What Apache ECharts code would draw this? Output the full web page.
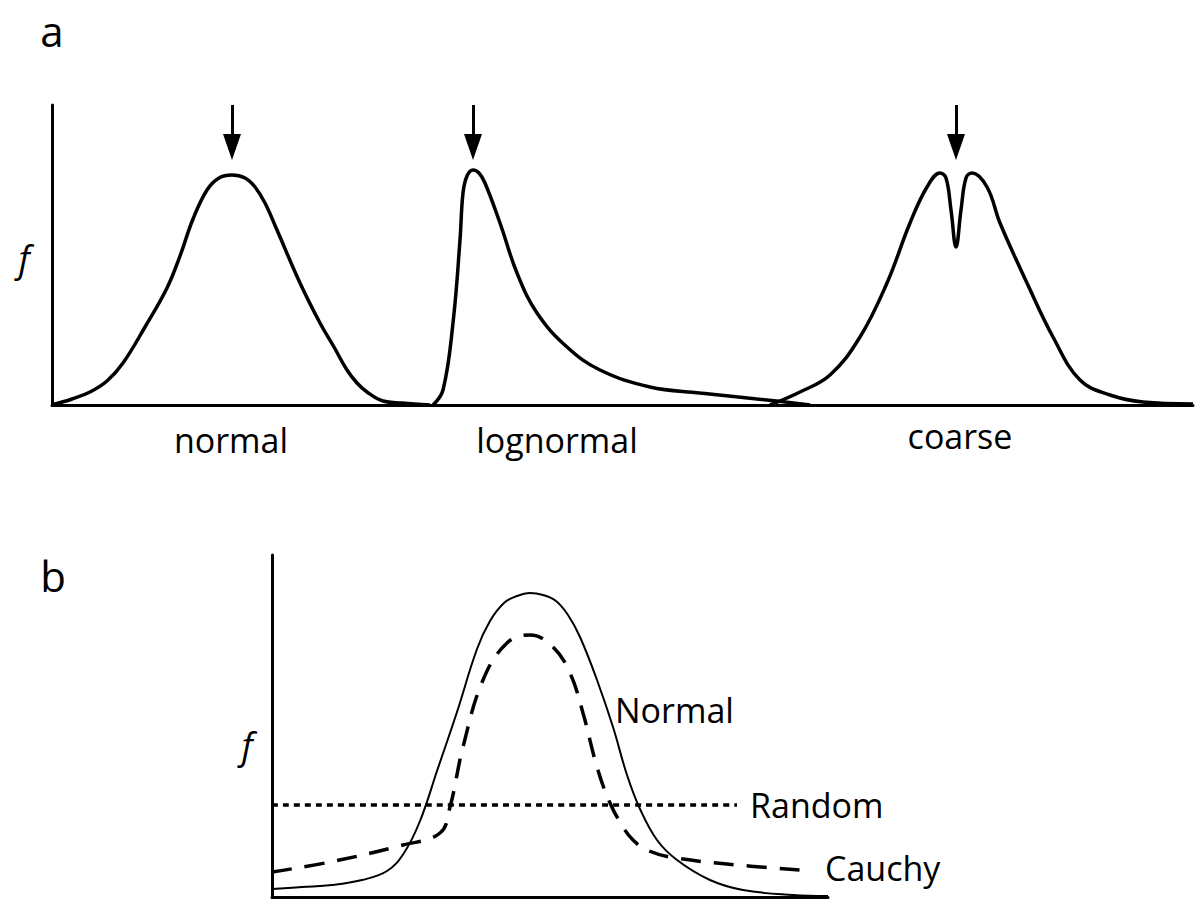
<!DOCTYPE html>
<html>
<head>
<meta charset="utf-8">
<script src="https://cdn.jsdelivr.net/npm/echarts@6/dist/echarts.min.js"></script>
<style>
  html, body { margin: 0; padding: 0; background: #fff; }
  #chart { width: 1200px; height: 900px; }
</style>
</head>
<body>
<div id="chart"></div>
<script>
// panel a: three grain-size distributions (x, f)
const normalA = [[0,0],[20,6],[38,13],[55,24],[71,42],[93,78],[115,117],[128,149],[141,186],[155,215],[167,227],[180,230],[193,227],[203,218],[213,202],[225,175],[248,122],[268,82],[282,58],[295,35],[305,22],[315,13],[331,4],[350,2],[378,0]];
const lognormalA = [[381,0],[391,15],[401,82],[408,165],[411,212],[415,229],[421,235],[427,232],[433,222],[448,182],[465,132],[485,92],[515,58],[548,35],[598,18],[648,12],[715,5],[758,0]];
const coarseA = [[718,0],[748,13],[778,30],[808,68],[835,122],[858,182],[875,218],[888,232],[894,227],[899,195],[904,158],[909,195],[914,227],[920,232],[935,218],[948,182],[975,122],[1001,68],[1028,25],[1058,10],[1091,3],[1141,1]];
// arrows mark the mode of each curve
const modeX = [180, 421, 904];
const catLabels = ['normal', 'lognormal', 'coarse'];

// panel b
const normalB = [[0,8],[30,10],[60,12],[90,17],[115,26],[132,44],[148,76],[165,126],[185,185],[205,248],[218,276],[232,294],[245,301],[258,304],[271,302],[284,296],[296,282],[308,260],[325,217],[341,170],[355,122],[368,88],[385,57],[405,37],[438,17],[471,7],[521,2],[556,1]];
const cauchyB = [[0,25],[58,35],[131,52],[168,64],[178,90],[191,150],[211,217],[235,254],[258,262],[281,250],[298,224],[311,184],[325,130],[338,94],[351,70],[361,57],[375,47],[398,40],[455,33],[528,27]];
const randomB = [[0,92],[465,92]];

const chart = echarts.init(document.getElementById('chart'), null, { renderer: 'svg' });

const FONT = '"Open Sans", sans-serif';

function axisX(idx, max) {
  return {
    type: 'value', gridIndex: idx, min: 0, max: max,
    axisLine: { show: true, onZero: false, lineStyle: { color: '#000', width: 3 } },
    axisTick: { show: false }, axisLabel: { show: false }, splitLine: { show: false }
  };
}
function axisY(idx, max) {
  return {
    type: 'value', gridIndex: idx, min: 0, max: max,
    axisLine: { show: true, lineStyle: { color: '#000', width: 3 } },
    axisTick: { show: false }, axisLabel: { show: false }, splitLine: { show: false }
  };
}
function curve(data, idx, width, type) {
  return {
    type: 'line', xAxisIndex: idx, yAxisIndex: idx, data: data,
    smooth: 0.4, showSymbol: false, silent: true, clip: false,
    lineStyle: { color: '#000', width: width, type: type || 'solid' }
  };
}

const seriesA = [curve(normalA, 0, 3.5), curve(lognormalA, 0, 3.5), curve(coarseA, 0, 3.5)];
seriesA.forEach(function (s, i) {
  s.markLine = {
    silent: true,
    symbol: ['none', 'triangle'],
    symbolSize: [18, 26],
    label: { show: false },
    lineStyle: { color: '#000', width: 3, type: 'solid' },
    data: [[{ coord: [modeX[i], 300] }, { coord: [modeX[i], 258] }]]
  };
});

const catPos = [[231, 440], [557, 440], [960, 436]];
const sideLabels = [
  { text: 'Normal', x: 615, y: 710 },
  { text: 'Random', x: 750, y: 805 },
  { text: 'Cauchy', x: 825, y: 868 }
];

const graphics = [
  { type: 'text', x: 52, y: 30, style: { text: 'a', font: '42px ' + FONT, fill: '#000', textAlign: 'center', textVerticalAlign: 'middle' } },
  { type: 'text', x: 53, y: 575, style: { text: 'b', font: '42px ' + FONT, fill: '#000', textAlign: 'center', textVerticalAlign: 'middle' } },
  { type: 'text', x: 24, y: 258, style: { text: 'f', font: 'italic 36px ' + FONT, fill: '#000', textAlign: 'center', textVerticalAlign: 'middle' } },
  { type: 'text', x: 247, y: 745, style: { text: 'f', font: 'italic 36px ' + FONT, fill: '#000', textAlign: 'center', textVerticalAlign: 'middle' } }
];
catLabels.forEach(function (t, i) {
  graphics.push({ type: 'text', x: catPos[i][0], y: catPos[i][1],
    style: { text: t, font: '34px ' + FONT, fill: '#000', textAlign: 'center', textVerticalAlign: 'middle' } });
});
sideLabels.forEach(function (l) {
  graphics.push({ type: 'text', x: l.x, y: l.y,
    style: { text: l.text, font: '34px ' + FONT, fill: '#000', textAlign: 'left', textVerticalAlign: 'middle' } });
});

const option = {
  backgroundColor: '#fff',
  animation: false,
  grid: [
    { left: 52, right: 7, top: 105, bottom: 495 },
    { left: 272, right: 372, top: 555, bottom: 3 }
  ],
  xAxis: [axisX(0, 1141), axisX(1, 556)],
  yAxis: [axisY(0, 300), axisY(1, 342)],
  series: seriesA.concat([
    curve(normalB, 1, 2),
    curve(cauchyB, 1, 3.5, [20, 13]),
    curve(randomB, 1, 3.5, [6, 5])
  ]),
  graphic: graphics
};

chart.setOption(option);
</script>
</body>
</html>
